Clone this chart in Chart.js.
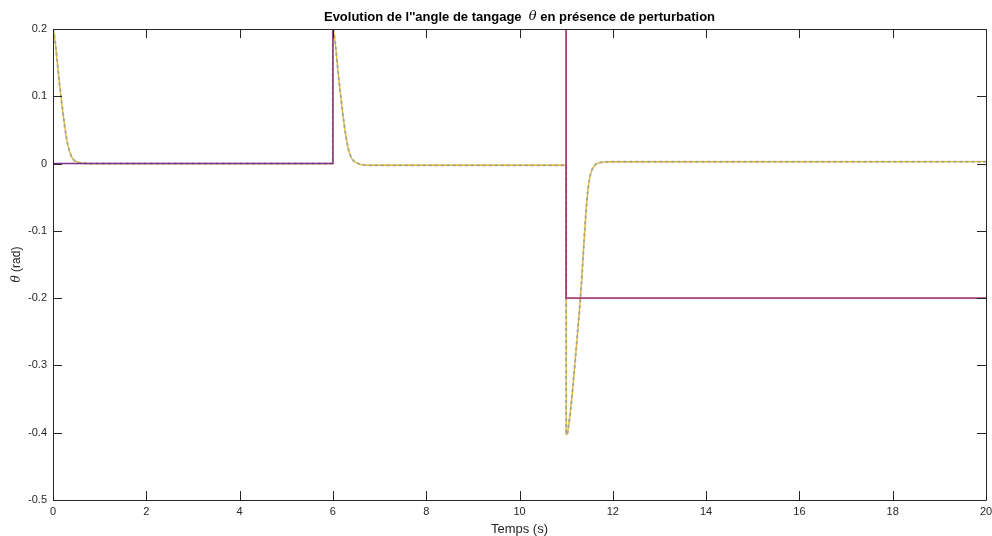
<!DOCTYPE html>
<html>
<head>
<meta charset="utf-8">
<script src="https://cdn.jsdelivr.net/npm/chart.js@4.4.1/dist/chart.umd.min.js"></script>
<style>
html,body{margin:0;padding:0;background:#fff;}
#wrap{width:992px;height:536px;position:relative;}
</style>
</head>
<body>
<div id="wrap"><canvas id="c" width="992" height="536"></canvas></div>
<script>
// ---- data ----
const chartTitle = "Evolution de l''angle de tangage  ";
const chartTitleSym = "\u03B8";
const chartTitleEnd = " en présence de perturbation";
const xAxisLabel = "Temps (s)";
const yAxisSym = "\u03B8";
const yAxisUnit = " (rad)";

const xTickValues = [0, 2, 4, 6, 8, 10, 12, 14, 16, 18, 20];
const yTickValues = [0.2, 0.1, 0, -0.1, -0.2, -0.3, -0.4, -0.5];
const yTickLabels = ["0.2", "0.1", "0", "-0.1", "-0.2", "-0.3", "-0.4", "-0.5"];

// reference (consigne) step signal
const refTime  = [0, 6, 6, 11, 11, 20];
const refValue = [0, 0, 0.2, 0.2, -0.2, -0.2];
// second reference trace (overlapping after t = 6)
const ref2Time  = [6, 11, 11, 20];
const ref2Value = [0.2, 0.2, -0.2, -0.2];

// pitch angle response
const respTime = [0, 0.03, 0.06, 0.10, 0.14, 0.17, 0.20, 0.24, 0.28, 0.32, 0.36, 0.40, 0.46, 0.54, 0.64, 0.80, 6.0,
  6.0, 6.03, 6.06, 6.10, 6.14, 6.17, 6.20, 6.24, 6.28, 6.32, 6.36, 6.40, 6.46, 6.54, 6.64, 6.80, 11.0,
  11.0, 11.02, 11.06, 11.10, 11.15, 11.20, 11.25, 11.30, 11.34, 11.38, 11.42, 11.46, 11.50, 11.55, 11.62, 11.70, 11.80, 11.95, 20];
const respValue = [0.2, 0.19, 0.173, 0.145, 0.118, 0.1, 0.083, 0.061, 0.042, 0.027, 0.017, 0.010, 0.0045, 0.0017, 0.0005, 0, 0,
  0.2, 0.19, 0.173, 0.144, 0.117, 0.099, 0.081, 0.059, 0.040, 0.025, 0.015, 0.008, 0.003, 0, -0.0018, -0.0025, -0.0025,
  -0.4025, -0.402, -0.386, -0.363, -0.327, -0.288, -0.247, -0.205, -0.165, -0.12, -0.077, -0.044, -0.023, -0.01, -0.002, 0.001, 0.0022, 0.0027, 0.0028];

const toPts = (xs, ys) => xs.map((x, i) => ({x: x, y: ys[i]}));

const AXIS_COLOR = '#262626';
const FONT = '"Liberation Sans", Arial, Helvetica, sans-serif';

const framePlugin = {
  id: 'frame',
  afterDraw(chart) {
    const ctx = chart.ctx;
    const a = chart.chartArea;
    const xs = chart.scales.x, ys = chart.scales.y;
    ctx.save();
    ctx.strokeStyle = AXIS_COLOR;
    ctx.lineWidth = 1;
    ctx.beginPath();
    ctx.rect(Math.round(a.left) + 0.5, Math.round(a.top) + 0.5, Math.round(a.right - a.left), Math.round(a.bottom - a.top));
    ctx.stroke();
    const L = 9;
    ctx.beginPath();
    xTickValues.forEach(v => {
      const px = Math.round(xs.getPixelForValue(v)) + 0.5;
      ctx.moveTo(px, a.bottom); ctx.lineTo(px, a.bottom - L);
      ctx.moveTo(px, a.top); ctx.lineTo(px, a.top + L);
    });
    yTickValues.forEach(v => {
      const py = Math.round(ys.getPixelForValue(v)) + 0.5;
      ctx.moveTo(a.left, py); ctx.lineTo(a.left + L, py);
      ctx.moveTo(a.right, py); ctx.lineTo(a.right - L, py);
    });
    ctx.stroke();

    // title with italic theta
    ctx.fillStyle = '#000';
    ctx.textBaseline = 'middle';
    const f1 = 'bold 13px ' + FONT;
    const f2 = 'italic 13px "DejaVu Serif", serif';
    ctx.font = f1; const w1 = ctx.measureText(chartTitle).width;
    ctx.font = f2; const w2 = ctx.measureText(chartTitleSym).width;
    ctx.font = f1; const w3 = ctx.measureText(chartTitleEnd).width;
    const cx = (a.left + a.right) / 2;
    let tx = cx - (w1 + w2 + w3) / 2;
    const ty = 17;
    ctx.textAlign = 'left';
    ctx.font = f1; ctx.fillText(chartTitle, tx, ty); tx += w1;
    ctx.font = f2; ctx.fillText(chartTitleSym, tx, ty); tx += w2;
    ctx.font = f1; ctx.fillText(chartTitleEnd, tx, ty);

    // x axis label
    ctx.fillStyle = AXIS_COLOR;
    ctx.font = '13px ' + FONT;
    ctx.textAlign = 'center';
    ctx.fillText(xAxisLabel, cx, 529);

    // y axis label rotated
    ctx.save();
    ctx.translate(17, (a.top + a.bottom) / 2);
    ctx.rotate(-Math.PI / 2);
    const g1 = 'italic 12px "DejaVu Serif", serif';
    const g2 = '12px ' + FONT;
    ctx.font = g1; const v1 = ctx.measureText(yAxisSym).width;
    ctx.font = g2; const v2 = ctx.measureText(yAxisUnit).width;
    let yx = -(v1 + v2) / 2;
    ctx.textAlign = 'left';
    ctx.font = g1; ctx.fillText(yAxisSym, yx, 0); yx += v1;
    ctx.font = g2; ctx.fillText(yAxisUnit, yx, 0);
    ctx.restore();
    ctx.restore();
  }
};

new Chart(document.getElementById('c'), {
  type: 'line',
  data: {
    datasets: [
      {
        label: 'ref2', data: toPts(ref2Time, ref2Value),
        borderColor: 'rgba(178,60,110,0.7)', borderWidth: 1.6, pointRadius: 0, tension: 0, order: 0
      },
      {
        label: 'ref', data: toPts(refTime, refValue),
        borderColor: '#7E2F8E', borderWidth: 1.4, pointRadius: 0, tension: 0, order: 1
      },
      {
        label: 'theta2', data: toPts(respTime, respValue),
        borderColor: 'rgba(160,170,150,0.95)', borderWidth: 2, borderDash: [3, 3], pointRadius: 0,
        cubicInterpolationMode: 'monotone', order: 2
      },
      {
        label: 'theta', data: toPts(respTime, respValue),
        borderColor: '#EDB120', borderWidth: 1.3, pointRadius: 0,
        cubicInterpolationMode: 'monotone', order: 3
      }
    ]
  },
  options: {
    responsive: false,
    animation: false,
    events: [],
    layout: { padding: { top: 29, right: 6, left: 0, bottom: 0 } },
    plugins: { legend: { display: false }, tooltip: { enabled: false }, title: { display: false } },
    scales: {
      x: {
        type: 'linear', min: 0, max: 20,
        afterBuildTicks(s) { s.ticks = xTickValues.map(v => ({value: v})); },
        afterFit(s) { s.height = 36; s.paddingLeft = 0; s.paddingRight = 0; },
        grid: { display: false, drawTicks: false },
        border: { display: false },
        ticks: { padding: 5, color: AXIS_COLOR, font: { family: FONT, size: 11 }, maxRotation: 0, autoSkip: false,
                 callback: (v) => String(v) }
      },
      y: {
        type: 'linear', min: -0.5, max: 0.2,
        afterBuildTicks(s) { s.ticks = yTickValues.map(v => ({value: v})); },
        afterFit(s) { s.width = 53; s.paddingTop = 0; s.paddingBottom = 0; },
        grid: { display: false, drawTicks: false },
        border: { display: false },
        ticks: { padding: 6, color: AXIS_COLOR, font: { family: FONT, size: 11 }, autoSkip: false,
                 callback: (v) => { const i = yTickValues.findIndex(t => Math.abs(t - v) < 1e-9); return i >= 0 ? yTickLabels[i] : ''; } }
      }
    }
  },
  plugins: [framePlugin]
});
</script>
</body>
</html>
